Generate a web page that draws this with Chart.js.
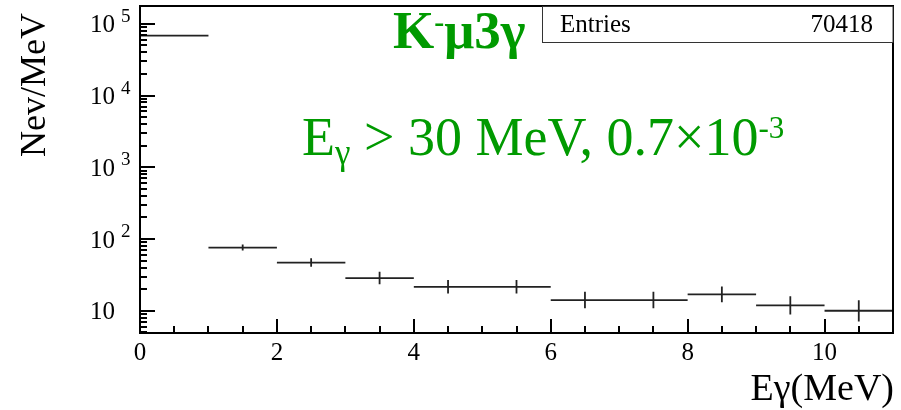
<!DOCTYPE html>
<html>
<head>
<meta charset="utf-8">
<script src="https://cdn.jsdelivr.net/npm/chart.js@4/dist/chart.umd.min.js"></script>
<style>
html, body { margin: 0; padding: 0; background: #fff; }
</style>
</head>
<body>
<canvas id="histChart" width="901" height="410"></canvas>
<script>
// histogram bins (MeV) and contents (Nev/MeV)
const binEdges = [0, 1, 2, 3, 4, 5, 6, 7, 8, 9, 10, 11];
const binCounts = [68500, 76, 47, 28.6, 21.6, 21.6, 14.1, 14.1, 16.9, 11.9, 10];
const errLow = [68240, 69, 41, 23.5, 17.4, 17.4, 10.8, 10.8, 13.1, 8.9, 7.1];
const errHigh = [68760, 84, 54, 35, 26.8, 26.8, 18.4, 18.4, 21.8, 16, 14];

// axis ticks
const xTickValues = [0, 2, 4, 6, 8, 10];
const xTickLabels = ['0', '2', '4', '6', '8', '10'];
const yTickValues = [10, 100, 1000, 10000, 100000];
const yTickBase = ['10', '10', '10', '10', '10'];
const yTickExp = ['', '2', '3', '4', '5'];

const entries = '70418';
const green = '#009a00';
const serif = '"Liberation Serif", "DejaVu Serif", serif';

// build line segments, null breaks between pieces
const binLines = [];
const errLines = [];
for (let i = 0; i < binCounts.length; i++) {
    binLines.push({ x: binEdges[i], y: binCounts[i] });
    binLines.push({ x: binEdges[i + 1], y: binCounts[i] });
    binLines.push({ x: binEdges[i + 1], y: null });
    const c = (binEdges[i] + binEdges[i + 1]) / 2;
    errLines.push({ x: c, y: errLow[i] });
    errLines.push({ x: c, y: errHigh[i] });
    errLines.push({ x: c, y: null });
}

// draw text pieces one after another, returns end x
function drawRuns(ctx, x, runs) {
    runs.forEach(function (r) {
        ctx.font = r.font;
        ctx.fillText(r.text, x, r.y);
        x += ctx.measureText(r.text).width;
    });
    return x;
}

const rootStyle = {
    id: 'rootStyle',
    afterDatasetsDraw(chart) {
        const ctx = chart.ctx;
        const a = chart.chartArea;
        const xs = chart.scales.x;
        const ys = chart.scales.y;
        ctx.save();
        ctx.strokeStyle = '#000';
        ctx.fillStyle = '#000';
        ctx.lineWidth = 2;

        // frame
        ctx.strokeRect(a.left, a.top, a.right - a.left, a.bottom - a.top);

        // x ticks (inward), minor every 0.5
        ctx.beginPath();
        for (let v = 0; v <= 11; v += 0.5) {
            const px = Math.round(xs.getPixelForValue(v));
            const len = (v % 2 === 0) ? 14 : 7;
            ctx.moveTo(px, a.bottom);
            ctx.lineTo(px, a.bottom - len);
        }
        ctx.stroke();

        // y ticks (inward), log minors
        ctx.beginPath();
        for (let d = 1; d <= 100000; d *= 10) {
            for (let m = 1; m <= 9; m++) {
                const v = d * m;
                if (v < ys.min || v > ys.max) continue;
                const py = Math.round(ys.getPixelForValue(v));
                const len = (m === 1) ? 15 : 7;
                ctx.moveTo(a.left, py);
                ctx.lineTo(a.left + len, py);
            }
        }
        ctx.stroke();

        // x tick labels
        ctx.font = '25px ' + serif;
        ctx.textAlign = 'center';
        ctx.textBaseline = 'middle';
        xTickValues.forEach(function (v, i) {
            ctx.fillText(xTickLabels[i], xs.getPixelForValue(v), 353);
        });

        // y tick labels with exponent
        yTickValues.forEach(function (v, i) {
            const py = ys.getPixelForValue(v);
            ctx.font = '25px ' + serif;
            ctx.textAlign = 'right';
            ctx.textBaseline = 'middle';
            ctx.fillText(yTickBase[i], 115, py + 2);
            if (yTickExp[i]) {
                ctx.font = '19px ' + serif;
                ctx.textAlign = 'left';
                ctx.textBaseline = 'alphabetic';
                ctx.fillText(yTickExp[i], 121, py - 2);
            }
        });

        // axis titles
        ctx.font = '38px ' + serif;
        ctx.textAlign = 'right';
        ctx.textBaseline = 'alphabetic';
        ctx.fillText('E\u03b3(MeV)', 894, 400);

        ctx.save();
        ctx.translate(45, 85);
        ctx.rotate(-Math.PI / 2);
        ctx.font = '36px ' + serif;
        ctx.textAlign = 'center';
        ctx.fillText('Nev/MeV', 0, 0);
        ctx.restore();

        // stats box
        ctx.fillStyle = '#fff';
        ctx.fillRect(542, a.top, a.right - 542, 42 - a.top);
        ctx.lineWidth = 1;
        ctx.strokeStyle = '#333';
        ctx.strokeRect(542.5, a.top + 0.5, a.right - 542.5, 42 - a.top);
        ctx.fillStyle = '#000';
        ctx.font = '25px ' + serif;
        ctx.textAlign = 'left';
        ctx.fillText('Entries', 560, 32);
        ctx.textAlign = 'right';
        ctx.fillText(entries, 873, 32);

        // green labels
        ctx.fillStyle = green;
        ctx.textAlign = 'left';
        drawRuns(ctx, 393, [
            { text: 'K', font: 'bold 53px ' + serif, y: 48 },
            { text: '-', font: 'bold 30px ' + serif, y: 32 },
            { text: '\u03bc3\u03b3', font: 'bold 53px ' + serif, y: 48 }
        ]);
        drawRuns(ctx, 302, [
            { text: 'E', font: '54px ' + serif, y: 155 },
            { text: '\u03b3', font: '35px ' + serif, y: 164 },
            { text: ' > 30 MeV, 0.7\u00d710', font: '54px ' + serif, y: 155 },
            { text: '-3', font: '31px ' + serif, y: 138 }
        ]);

        ctx.restore();
    }
};

const ctx = document.getElementById('histChart').getContext('2d');
const histChart = new Chart(ctx, {
    type: 'line',
    data: {
        datasets: [{
            data: binLines,
            borderColor: '#222',
            borderWidth: 1.8,
            pointRadius: 0,
            spanGaps: false
        }, {
            data: errLines,
            borderColor: '#222',
            borderWidth: 1.8,
            pointRadius: 0,
            spanGaps: false
        }]
    },
    options: {
        responsive: false,
        animation: false,
        devicePixelRatio: 1,
        layout: { padding: { left: 140, top: 6, right: 8, bottom: 77 } },
        plugins: { legend: { display: false }, tooltip: { enabled: false } },
        scales: {
            x: { type: 'linear', min: 0, max: 11, display: false },
            y: { type: 'logarithmic', min: 4.9, max: 177000, display: false }
        }
    },
    plugins: [rootStyle]
});
</script>
</body>
</html>
